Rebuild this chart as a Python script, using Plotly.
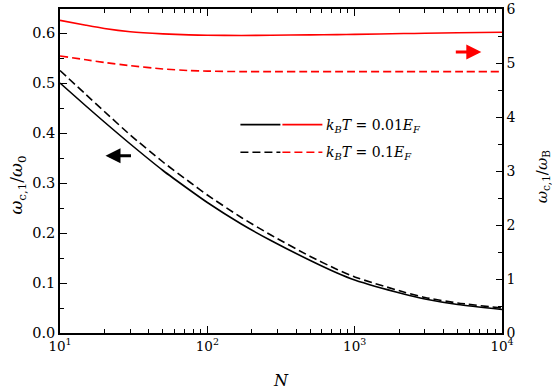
import plotly.graph_objects as go

# ---- data ----
N = [10, 15, 20, 30, 50, 75, 100, 170, 270, 500, 760, 1000, 2150, 3000, 5000, 10000]

# left axis: omega_c1 / omega_0
black_solid = [0.500, 0.454, 0.422, 0.378, 0.325, 0.287, 0.261, 0.218, 0.185, 0.145, 0.120, 0.106, 0.078, 0.068, 0.057, 0.047]
black_dash = [0.525, 0.477, 0.443, 0.396, 0.342, 0.303, 0.276, 0.231, 0.196, 0.153, 0.127, 0.112, 0.082, 0.071, 0.060, 0.050]

# right axis: omega_c1 / omega_B
red_solid = [5.79, 5.70, 5.64, 5.58, 5.54, 5.52, 5.515, 5.51, 5.515, 5.52, 5.525, 5.53, 5.545, 5.55, 5.56, 5.57]
red_dash = [5.13, 5.06, 5.01, 4.95, 4.89, 4.86, 4.85, 4.84, 4.84, 4.84, 4.84, 4.84, 4.84, 4.84, 4.84, 4.84]

x_major = [10, 100, 1000, 10000]
x_major_text = ["10<sup>1</sup>", "10<sup>2</sup>", "10<sup>3</sup>", "10<sup>4</sup>"]
x_minor = [m * d for d in (10, 100, 1000) for m in range(2, 10)]

legend_labels = ["<i>k</i><sub><i>B</i></sub><i>T</i> = 0.01<i>E</i><sub><i>F</i></sub>",
                 "<i>k</i><sub><i>B</i></sub><i>T</i> = 0.1<i>E</i><sub><i>F</i></sub>"]

FONT = "DejaVu Serif"
DASH = "8px,4px"
LW = 1.6

fig = go.Figure()
line_kw = dict(shape="spline", smoothing=0.6)
fig.add_trace(go.Scatter(x=N, y=black_solid, mode="lines", line=dict(color="black", width=LW, **line_kw), yaxis="y", showlegend=False))
fig.add_trace(go.Scatter(x=N, y=black_dash, mode="lines", line=dict(color="black", width=LW, dash=DASH, **line_kw), yaxis="y", showlegend=False))
fig.add_trace(go.Scatter(x=N, y=red_solid, mode="lines", line=dict(color="#ff0000", width=LW, **line_kw), yaxis="y2", showlegend=False))
fig.add_trace(go.Scatter(x=N, y=red_dash, mode="lines", line=dict(color="#ff0000", width=LW, dash=DASH, **line_kw), yaxis="y2", showlegend=False))

W, H = 552, 390
L, R, T, B = 59.5, 50.3, 9.3, 57.3
pw, ph = W - L - R, H - T - B

def px(xp):
    return (xp - L) / pw

def py(yp):
    return (H - B - yp) / ph

# custom legend (black + red line samples with text)
for i, (yrow, dash) in enumerate([(124.7, None), (152.3, DASH)]):
    for (x0, x1, col) in [(240, 280, "black"), (282, 322, "#ff0000")]:
        fig.add_shape(type="line", xref="paper", yref="paper",
                      x0=px(x0), x1=px(x1), y0=py(yrow), y1=py(yrow),
                      line=dict(color=col, width=LW, dash=dash if dash else "solid"))
    fig.add_annotation(xref="paper", yref="paper", x=px(324), y=py(yrow + 1),
                       text=legend_labels[i], showarrow=False, xanchor="left", yanchor="middle",
                       font=dict(family=FONT, size=14, color="black"))

# arrows indicating axes
fig.add_annotation(xref="paper", yref="paper", x=px(105), y=py(155.7), ax=27, ay=0,
                   text="", showarrow=True, arrowhead=2, arrowsize=1, arrowwidth=3, arrowcolor="black")
fig.add_annotation(xref="paper", yref="paper", x=px(481), y=py(52.3), ax=-27, ay=0,
                   text="", showarrow=True, arrowhead=2, arrowsize=1, arrowwidth=3, arrowcolor="#ff0000")

# axis titles
fig.add_annotation(xref="paper", yref="paper", x=px(17), y=py(185), textangle=-90,
                   text="<i>ω</i><sub>c,1</sub>/<i>ω</i><sub>0</sub>", showarrow=False,
                   xanchor="center", yanchor="middle", font=dict(family=FONT, size=17))
fig.add_annotation(xref="paper", yref="paper", x=px(542), y=py(177), textangle=-90,
                   text="<i>ω</i><sub>c,1</sub>/<i>ω</i><sub>B</sub>", showarrow=False,
                   xanchor="center", yanchor="middle", font=dict(family=FONT, size=15))
fig.add_annotation(xref="paper", yref="paper", x=px(281), y=py(380),
                   text="<i>N</i>", showarrow=False,
                   xanchor="center", yanchor="middle", font=dict(family=FONT, size=16))

axis_common = dict(showline=True, linecolor="black", linewidth=1.5, ticks="inside",
                   tickcolor="black", tickwidth=1.3, showgrid=False, zeroline=False)

fig.update_layout(
    width=W, height=H,
    margin=dict(l=L, r=R, t=T, b=B, autoexpand=False),
    paper_bgcolor="white", plot_bgcolor="white",
    font=dict(family=FONT, color="black", size=14),
    xaxis=dict(type="log", range=[1, 4], tickvals=x_major, ticktext=x_major_text, ticklen=7,
               minor=dict(tickvals=x_minor, ticks="inside", ticklen=4, tickcolor="black", tickwidth=1.2),
               mirror="ticks", tickfont=dict(size=13.5), **axis_common),
    yaxis=dict(range=[0, 0.648], dtick=0.1, tick0=0, tickformat=".1f", ticklen=7,
               minor=dict(dtick=0.05, ticks="inside", ticklen=4, tickcolor="black", tickwidth=1.2),
               tickfont=dict(size=14.5), **axis_common),
    yaxis2=dict(range=[0, 6], dtick=1, tick0=0, overlaying="y", side="right", ticklen=6,
                minor=dict(dtick=0.5, ticks="inside", ticklen=4, tickcolor="black", tickwidth=1.2),
                tickfont=dict(size=14), **axis_common),
)

fig.write_html("out.html", config={"displayModeBar": False},
               post_script="document.body.style.margin='0';document.body.style.overflow='hidden';")
